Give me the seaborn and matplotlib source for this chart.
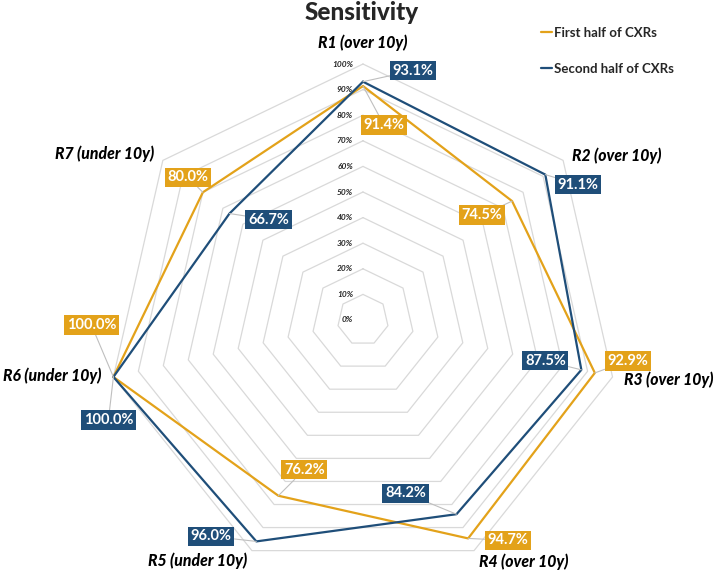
import numpy as np
import pandas as pd
import seaborn as sns
import matplotlib.pyplot as plt
from matplotlib.lines import Line2D

# Values (percent)
categories = ['R1 (over 10y)', 'R2 (over 10y)', 'R3 (over 10y)', 'R4 (over 10y)',
              'R5 (under 10y)', 'R6 (under 10y)', 'R7 (under 10y)']
first_half = [91.4, 74.5, 92.9, 94.7, 76.2, 100.0, 80.0]
second_half = [93.1, 91.1, 87.5, 84.2, 96.0, 100.0, 66.7]
series_names = ['First half of CXRs', 'Second half of CXRs']
ring_ticks = [0, 10, 20, 30, 40, 50, 60, 70, 80, 90, 100]

colors = {'First half of CXRs': '#E3A21A', 'Second half of CXRs': '#1F4E79'}
grid_color = '#D9D9D9'

# label placement (pixel offsets from the point)
first_offsets = [(21, -39), (-30, -14), (33, 12), (40, -2), (26, 26), (-22, 52), (-15, 15)]
second_offsets = [(50, 11), (33, -10), (-36, 9), (-51, 21), (-45, 5), (-5, -43), (39, -6)]
cat_offsets = [(0, 21, 'center'), (9, 5, 'left'), (11, -3, 'left'), (5, -11, 'left'),
               (-5, -10, 'right'), (-12, 1, 'right'), (-9, 7, 'right')]

sns.set_theme(style='white')
plt.rcParams['font.family'] = ['Lato', 'DejaVu Sans']

n = len(categories)
theta = np.linspace(0, 2 * np.pi, n, endpoint=False)
theta_closed = np.append(theta, 2 * np.pi)

rows = []
for name, vals in zip(series_names, [first_half, second_half]):
    closed = list(vals) + [vals[0]]
    for t, v in zip(theta_closed, closed):
        rows.append({'theta': t, 'value': v, 'series': name})
df = pd.DataFrame(rows)

fig = plt.figure(figsize=(7.16, 5.70), dpi=100)
ax = fig.add_axes([0.1494, -0.0105, 0.7151, 0.8982], projection='polar')
ax.set_theta_zero_location('N')
ax.set_theta_direction(-1)
ax.patch.set_alpha(0)

# heptagon grid rings
for r in ring_ticks[1:]:
    ax.plot(theta_closed, [r] * (n + 1), color=grid_color, lw=0.9, zorder=1, clip_on=False)

sns.lineplot(data=df, x='theta', y='value', hue='series', palette=colors,
             sort=False, estimator=None, lw=1.6, legend=False, ax=ax, zorder=3)
for ln in ax.get_lines():
    ln.set_clip_on(False)

ax.set_xlim(0, 2 * np.pi)
ax.set_ylim(0, 100)
ax.set_xticks([])
ax.set_yticks([])
ax.grid(False)
ax.spines['polar'].set_visible(False)
ax.set_xlabel('')
ax.set_ylabel('')

# radial value labels along R1 axis
for r in ring_ticks:
    ax.annotate(f'{r}%', xy=(0, r), xytext=(-10, 0), textcoords='offset pixels',
                ha='right', va='center', fontsize=6, style='italic', weight='bold',
                color='#262626', annotation_clip=False)

# category labels
for t, lab, (dx, dy, ha) in zip(theta, categories, cat_offsets):
    ax.annotate(lab, xy=(t, 100), xytext=(dx, dy), textcoords='offset pixels',
                ha=ha, va='center', fontsize=11.3, style='italic', weight='black',
                color='black', annotation_clip=False)

# data labels
for name, vals, offs in [(series_names[0], first_half, first_offsets),
                         (series_names[1], second_half, second_offsets)]:
    for t, v, (dx, dy) in zip(theta, vals, offs):
        ax.annotate(f'{v:.1f}%', xy=(t, v), xytext=(dx, dy), textcoords='offset pixels',
                    ha='center', va='center', fontsize=10.5, color='white', weight='bold',
                    bbox=dict(boxstyle='square,pad=0.18', fc=colors[name], ec='none'),
                    arrowprops=dict(arrowstyle='-', color='#BFBFBF', lw=0.8,
                                    shrinkA=0, shrinkB=0),
                    zorder=5, annotation_clip=False)

fig.text(0.505, 1 - 12 / 570, 'Sensitivity', ha='center', va='center',
         fontsize=17.5, weight='black')

handles = [Line2D([], [], color=colors[s], lw=1.6) for s in series_names]
fig.legend(handles, series_names, loc='upper left', bbox_to_anchor=(541 / 716, 1 - 27 / 570),
           frameon=False, borderpad=0, borderaxespad=0, handlelength=0.8,
           handletextpad=0.2, labelspacing=1.8, prop={'size': 9.5, 'weight': 'bold'})

fig.savefig('out.png', dpi=100)
